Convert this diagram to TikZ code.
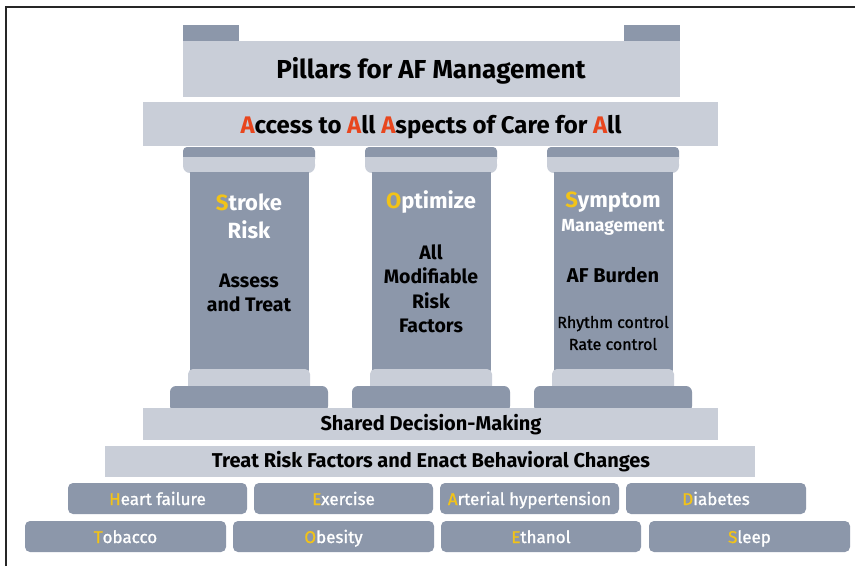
\documentclass[tikz,border=0pt]{standalone}
\usepackage{fontspec}
\setmainfont{Fira Sans}
\newfontfamily\medfont{Fira Sans}[FakeBold=1.2]
\definecolor{dk}{HTML}{8C97AA}
\definecolor{lt}{HTML}{C9CED8}
\definecolor{yl}{HTML}{F2C318}
\definecolor{orr}{HTML}{E8461E}
\begin{document}
\begin{tikzpicture}[x=1pt,y=-1pt,
  txt/.style={inner sep=0pt, align=center, text=black, font=\bfseries\fontsize{#1}{#1}\selectfont},
  wtxt/.style={inner sep=0pt, align=center, text=white, font=\bfseries\fontsize{#1}{#1}\selectfont},
  pilltxt/.style={inner sep=0pt, anchor=base, text=white, font=\medfont\fontsize{17}{17}\selectfont},
  pill/.style={fill=dk, rounded corners=5pt}]
\useasboundingbox (0,0) rectangle (855,566);
\fill[white] (0,0) rectangle (855,566);
\draw[line width=2.2pt, black!85] (6,566) -- (6,7) -- (855,7);
% top tabs and title
\fill[dk] (183,25) rectangle (239,42);
\fill[dk] (624,25) rectangle (680,42);
\fill[lt] (183,41) rectangle (680,97);
\node[txt=26] (title) at (431,71) {Pillars for AF Management};
% access band
\fill[lt] (143,102) rectangle (718,146);
\node[txt=24] (access) at (431,127) {\textcolor{orr}{A}ccess to \textcolor{orr}{A}ll \textcolor{orr}{A}spects of Care for \textcolor{orr}{A}ll};
% pillars
\foreach \c in {249,431,613}{
  \fill[dk, rounded corners=4pt] (\c-66,147) rectangle (\c+66,163);
  \fill[lt, rounded corners=7pt] (\c-66,157) rectangle (\c+66,173);
  \fill[lt] (\c-66,157) rectangle (\c+66,163);
  \fill[dk] (\c-59.5,172) rectangle (\c+59.5,371);
  \fill[lt, rounded corners=5pt] (\c-61,369) rectangle (\c+61,392);
  \fill[dk, rounded corners=6pt] (\c-79,386) rectangle (\c+79,412);
}
% pillar texts
\node[wtxt=22] (p1t) at (249,216) {\textcolor{yl}{S}troke\\[6pt]Risk};
\node[txt=19.5] (p1s) at (249,293) {Assess\\[4.5pt]and Treat};
\node[wtxt=22] (p2t) at (431,202) {\textcolor{yl}{O}ptimize};
\node[txt=19.5] (p2s) at (431,289) {All\\[5pt]Modifiable\\[5pt]Risk\\[5pt]Factors};
\node[wtxt=22] (p3t) at (613,202) {\textcolor{yl}{S}ymptom};
\node[wtxt=17.5] (p3m) at (613,227) {Management};
\node[txt=20] (p3s) at (613,275) {AF Burden};
\node[inner sep=0pt, align=center, font=\medfont\fontsize{16}{16}\selectfont] (p3r) at (613,333) {Rhythm control\\[6pt]Rate control};
% bands
\fill[lt] (143,408) rectangle (718,440);
\node[txt=20] (shared) at (431,425) {Shared Decision-Making};
\fill[lt] (105,446) rectangle (755,477);
\node[txt=20] (treat) at (431,462) {Treat Risk Factors and Enact Behavioral Changes};
% risk factor pills
\fill[pill] (68,483) rectangle (247,514);
\fill[pill] (254,483) rectangle (433,514);
\fill[pill] (440,483) rectangle (619,514);
\fill[pill] (626,483) rectangle (806,514);
\fill[pill] (25,521) rectangle (226,552);
\fill[pill] (233,521) rectangle (434,552);
\fill[pill] (441,521) rectangle (641,552);
\fill[pill] (649,521) rectangle (850,552);
\node[pilltxt] (hf) at (157.5,505) {\textcolor{yl}{H}eart failure};
\node[pilltxt] (ex) at (343.5,505) {\textcolor{yl}{E}xercise};
\node[pilltxt] (ah) at (529.5,505) {\textcolor{yl}{A}rterial hypertension};
\node[pilltxt] (di) at (716,505) {\textcolor{yl}{D}iabetes};
\node[pilltxt] (to) at (125.5,543) {\textcolor{yl}{T}obacco};
\node[pilltxt] (ob) at (333.5,543) {\textcolor{yl}{O}besity};
\node[pilltxt] (et) at (541,543) {\textcolor{yl}{E}thanol};
\node[pilltxt] (sl) at (749.5,543) {\textcolor{yl}{S}leep};
\end{tikzpicture}
\end{document}
